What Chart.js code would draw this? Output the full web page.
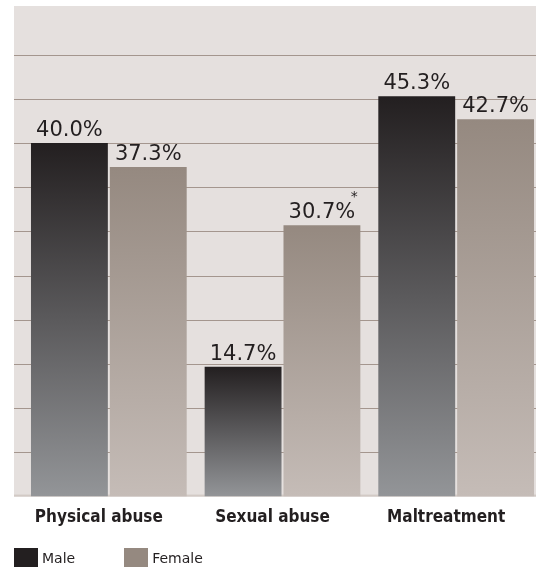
<!DOCTYPE html>
<html>
<head>
<meta charset="utf-8">
<script src="https://cdn.jsdelivr.net/npm/chart.js@4/dist/chart.umd.min.js"></script>
<style>
  html, body { margin: 0; padding: 0; background: #fff; }
  #wrap { position: relative; width: 536px; height: 567px; overflow: hidden; }
  #box { position: absolute; left: 0; top: 0; width: 556px; height: 567px; }
  #legend { position: absolute; left: 14px; top: 548px; display: flex; font: 14px "DejaVu Sans", sans-serif; color: #231f20; }
  .item { display: flex; align-items: center; }
  .swatch { width: 24px; height: 19px; margin-right: 4px; }
</style>
</head>
<body>
<div id="wrap">
  <div id="box"><canvas id="chart"></canvas></div>
  <div id="legend"></div>
</div>
<script>
const categories = ["Physical abuse", "Sexual abuse", "Maltreatment"];
const maleValues = [40.0, 14.7, 45.3];
const femaleValues = [37.3, 30.7, 42.7];
const femaleNotes = ["", "*", ""];
const seriesNames = ["Male", "Female"];

const textColor = "#231f20";
const maleStops = ["#231f20", "#939598"];
const femaleStops = ["#958980", "#c5bcb7"];

function barGradient(stops) {
  return (context) => {
    const chart = context.chart;
    if (!chart.chartArea || context.raw === undefined) return stops[0];
    const yScale = chart.scales.y;
    const top = yScale.getPixelForValue(context.raw);
    const bottom = yScale.getPixelForValue(0);
    const gradient = chart.ctx.createLinearGradient(0, top, 0, bottom);
    gradient.addColorStop(0, stops[0]);
    gradient.addColorStop(1, stops[1]);
    return gradient;
  };
}

// background panel and grid lines, wider than the chart area
const panelPlugin = {
  id: "panel",
  beforeDatasetsDraw(chart) {
    const { ctx, scales } = chart;
    const left = 14;
    const right = chart.width;
    const bottom = scales.y.getPixelForValue(0);
    ctx.save();
    ctx.fillStyle = "#e5e0de";
    ctx.fillRect(left, 6, right - left, bottom - 6);
    ctx.fillStyle = "#d2cac5";
    ctx.fillRect(left, bottom - 2, right - left, 2);
    ctx.strokeStyle = "#a4968e";
    ctx.lineWidth = 1;
    scales.y.ticks.forEach((tick) => {
      if (tick.value <= 0 || tick.value % 5 !== 0) return;
      const y = Math.round(scales.y.getPixelForValue(tick.value)) + 0.5;
      ctx.beginPath();
      ctx.moveTo(left, y);
      ctx.lineTo(right, y);
      ctx.stroke();
    });
    ctx.restore();
  },
  afterDatasetsDraw(chart) {
    const { ctx } = chart;
    ctx.save();
    ctx.fillStyle = textColor;
    ctx.textAlign = "center";
    ctx.textBaseline = "alphabetic";
    ctx.font = '21px "DejaVu Sans", sans-serif';
    chart.data.datasets.forEach((dataset, di) => {
      chart.getDatasetMeta(di).data.forEach((bar, i) => {
        const label = dataset.data[i].toFixed(1) + "%";
        ctx.fillText(label, bar.x, bar.y - 7);
        if (di === 1 && femaleNotes[i]) {
          const w = ctx.measureText(label).width;
          ctx.save();
          ctx.font = '14px "DejaVu Sans", sans-serif';
          ctx.fillText(femaleNotes[i], bar.x + w / 2 - 1, bar.y - 24);
          ctx.restore();
        }
      });
    });
    ctx.restore();
  },
};

new Chart(document.getElementById("chart"), {
  type: "bar",
  data: {
    labels: categories,
    datasets: [
      {
        label: seriesNames[0],
        data: maleValues,
        backgroundColor: barGradient(maleStops),
        categoryPercentage: 0.908,
        barPercentage: 0.975,
      },
      {
        label: seriesNames[1],
        data: femaleValues,
        backgroundColor: barGradient(femaleStops),
        categoryPercentage: 0.908,
        barPercentage: 0.975,
      },
    ],
  },
  options: {
    responsive: true,
    maintainAspectRatio: false,
    animation: false,
    layout: { padding: { left: 22, right: 13, top: 6, bottom: 28 } },
    plugins: {
      legend: { display: false },
      tooltip: { enabled: false },
    },
    scales: {
      x: {
        grid: { display: false, drawTicks: false },
        border: { display: false },
        ticks: {
          color: textColor,
          padding: 11,
          labelOffset: -10,
          font: { family: '"Liberation Sans Narrow", "DejaVu Sans Condensed", sans-serif', size: 17, weight: "bold" },
        },
      },
      y: {
        min: 0,
        max: 55.5,
        grid: { display: false, drawTicks: false },
        border: { display: false },
        ticks: { display: false, stepSize: 5 },
      },
    },
  },
  plugins: [panelPlugin],
});

document.getElementById("legend").innerHTML = seriesNames
  .map(
    (name, i) => `
      <div class="item" style="margin-right:${i === 0 ? 49 : 0}px">
        <span class="swatch" style="background:${i === 0 ? maleStops[0] : femaleStops[0]}"></span>
        <span>${name}</span>
      </div>`,
  )
  .join("");
</script>
</body>
</html>
